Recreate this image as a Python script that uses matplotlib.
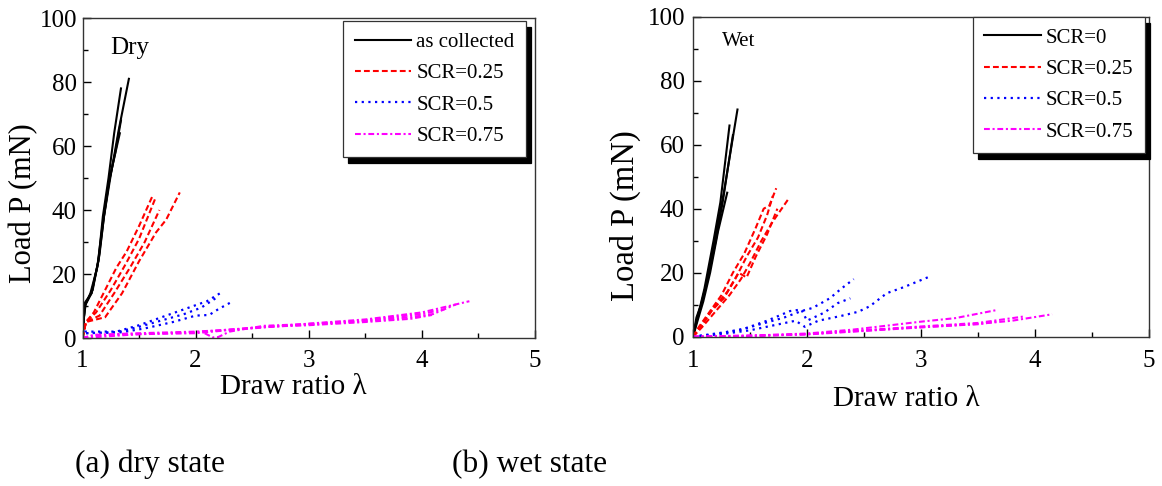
import matplotlib
matplotlib.use('Agg')
import matplotlib.pyplot as plt
from matplotlib.ticker import MultipleLocator

plt.rcParams['font.family'] = ['Liberation Serif', 'DejaVu Serif']

# ---------------- data ----------------
# each entry = (draw ratio list, load list) for one specimen

# (a) dry state
dry_as_collected = [
    ([1.0, 1.01, 1.02, 1.08, 1.14, 1.18, 1.23, 1.28, 1.34], [0, 5, 11, 14, 24, 38, 50, 64, 78]),
    ([1.0, 1.01, 1.03, 1.09, 1.15, 1.19, 1.25, 1.32, 1.41], [0, 6, 11, 15, 26, 38, 51, 65, 81]),
    ([1.0, 1.02, 1.07, 1.13, 1.18, 1.23, 1.29, 1.34], [0, 10, 14, 22, 36, 48, 58, 68]),
    ([1.0, 1.02, 1.08, 1.14, 1.19, 1.24, 1.33], [0, 10, 14, 24, 38, 50, 64]),
]
dry_scr025 = [
    ([1.0, 1.03, 1.1, 1.2, 1.3, 1.39, 1.5, 1.62], [0, 5, 8, 15, 22, 27, 35, 44.5]),
    ([1.0, 1.03, 1.12, 1.25, 1.38, 1.5, 1.65], [0, 5, 8, 15, 23, 31, 44.2]),
    ([1.0, 1.03, 1.15, 1.28, 1.42, 1.55, 1.68], [0, 5, 7, 14, 22, 30, 40]),
    ([1.0, 1.03, 1.2, 1.35, 1.5, 1.65, 1.74, 1.86], [0, 5, 6.5, 14, 24, 33, 37, 45.5]),
]
dry_scr05 = [
    ([1.0, 1.02, 1.3, 1.5, 1.7, 1.9, 2.1, 2.24], [0, 2, 2, 4, 6.5, 9, 11.5, 14.5]),
    ([1.0, 1.02, 1.3, 1.5, 1.7, 1.9, 2.05, 2.18], [0, 1.5, 1.8, 3.5, 5.5, 7.5, 9.5, 12.5]),
    ([1.0, 1.02, 1.35, 1.55, 1.8, 2.0, 2.12, 2.2, 2.33], [0, 1.5, 1.8, 3, 5, 7, 7.2, 9, 11.5]),
]
dry_scr075 = [
    ([1.0, 1.1, 1.5, 2.0, 2.5, 3.0, 3.5, 4.0, 4.42], [0, 1, 1.5, 2, 3, 4.5, 5.8, 8, 11.5]),
    ([1.0, 1.1, 1.5, 2.0, 2.5, 3.0, 3.5, 3.9, 4.1, 4.3], [0, 0.8, 1.2, 1.8, 3.2, 4.2, 5.3, 6.5, 7.5, 10.5]),
    ([1.0, 1.5, 2.0, 2.6, 3.0, 3.5, 3.9, 4.09], [0, 1.2, 1.5, 3.5, 4, 5, 6, 7.2]),
    ([2.08, 2.15, 2.2, 2.3, 2.6, 3.0, 3.5, 4.0, 4.2], [1.5, 0.2, 0.3, 2, 3.8, 4.4, 5.5, 7.5, 9]),
]

# (b) wet state
wet_scr0 = [
    ([1.0, 1.03, 1.06, 1.1, 1.18, 1.24, 1.32], [0, 5, 9, 15, 30, 42, 66]),
    ([1.0, 1.03, 1.07, 1.12, 1.2, 1.27, 1.33, 1.39], [0, 6, 10, 17, 32, 45, 58, 71]),
    ([1.0, 1.04, 1.08, 1.13, 1.2, 1.26, 1.35], [0, 6, 11, 18, 30, 42, 63]),
    ([1.0, 1.04, 1.09, 1.15, 1.22, 1.30], [0, 5, 11, 20, 33, 45]),
]
wet_scr025 = [
    ([1.0, 1.05, 1.15, 1.25, 1.35, 1.45, 1.55, 1.62, 1.67, 1.73], [0, 3, 8, 13, 20, 26, 34, 40, 41, 46.4]),
    ([1.0, 1.06, 1.16, 1.27, 1.37, 1.47, 1.57, 1.65, 1.70], [0, 3, 8, 12, 18, 25, 31, 38, 44]),
    ([1.0, 1.08, 1.2, 1.32, 1.42, 1.5, 1.6, 1.7, 1.84], [0, 3, 8, 13, 18, 23, 30, 36, 43.2]),
    ([1.0, 1.07, 1.18, 1.3, 1.4, 1.47, 1.55, 1.65, 1.74], [0, 3, 9, 14, 20, 18.5, 25, 32, 40]),
]
wet_scr05 = [
    ([1.0, 1.2, 1.4, 1.6, 1.8, 1.95, 2.05, 2.2, 2.3, 2.41], [0, 1, 2, 4, 6, 8, 9, 12, 15, 18]),
    ([1.0, 1.2, 1.45, 1.65, 1.85, 1.95, 2.0, 2.15, 2.27, 2.38], [0, 0.8, 2.5, 5, 8, 8.5, 5, 7.5, 10.5, 12]),
    ([1.0, 1.25, 1.5, 1.7, 1.9, 1.98, 2.1, 2.3, 2.45, 2.55, 2.7, 2.85, 3.09],
     [0, 0.8, 2, 3.5, 5, 3.1, 5, 6.5, 7.8, 9.5, 13.6, 15.5, 19]),
]
wet_scr075 = [
    ([1.0, 1.5, 2.0, 2.4, 3.0, 3.3, 3.66], [0, 0.3, 1, 2.2, 4.7, 5.8, 8.3]),
    ([1.0, 1.5, 2.0, 2.4, 3.0, 3.5, 3.9], [0, 0.2, 0.8, 1.8, 3.2, 4.3, 6.3]),
    ([1.0, 1.5, 2.0, 2.5, 3.0, 3.5, 3.8, 4.15], [0, 0.2, 0.7, 1.8, 2.9, 4.0, 5.0, 7.0]),
    ([1.0, 2.0, 2.5, 3.0, 3.5, 3.66], [0, 0.8, 1.9, 3.0, 3.9, 4.7]),
]

dry_labels = ['as collected', 'SCR=0.25', 'SCR=0.5', 'SCR=0.75']
wet_labels = ['SCR=0', 'SCR=0.25', 'SCR=0.5', 'SCR=0.75']

# line styles per group
styles = [
    dict(color='black', lw=1.5, ls='-'),
    dict(color='#ff0000', lw=1.5, dashes=(2.8, 1.5)),
    dict(color='#0000ff', lw=1.6, dashes=(1.0, 2.0)),
    dict(color='#ff00ff', lw=1.5, dashes=(2.8, 1.3, 1.0, 1.3)),
]

fig = plt.figure(figsize=(11.62, 4.86), dpi=100)
ax1 = fig.add_axes([0.0710, 0.3045, 0.3894, 0.6584])
ax2 = fig.add_axes([0.5964, 0.3072, 0.3924, 0.6584])


def draw(ax, groups, labels):
    for curves, lab, st in zip(groups, labels, styles):
        for i, (x, y) in enumerate(curves):
            ax.plot(x, y, label=lab if i == 0 else None, **st)


draw(ax1, [dry_as_collected, dry_scr025, dry_scr05, dry_scr075], dry_labels)
draw(ax2, [wet_scr0, wet_scr025, wet_scr05, wet_scr075], wet_labels)

for ax, xpad, ypad in [(ax1, 8.5, 4), (ax2, 9.5, 5.8)]:
    ax.set_xlim(1, 5)
    ax.set_ylim(0, 100)
    ax.xaxis.set_major_locator(MultipleLocator(1))
    ax.xaxis.set_minor_locator(MultipleLocator(0.5))
    ax.yaxis.set_major_locator(MultipleLocator(20))
    ax.yaxis.set_minor_locator(MultipleLocator(10))
    ax.tick_params(which='both', direction='in', top=False, right=False, width=1.0)
    ax.tick_params(which='major', length=6)
    ax.tick_params(which='minor', length=3.5)
    ax.tick_params(axis='x', which='major', labelsize=18, pad=xpad)
    ax.tick_params(axis='y', which='major', labelsize=18, pad=ypad)
    for sp in ax.spines.values():
        sp.set_linewidth(1.0)
        sp.set_color('#333333')

ax1.set_xlabel('Draw ratio λ', fontsize=21, va='baseline')
ax1.xaxis.set_label_coords(0.467, -0.175)
ax1.set_ylabel('Load P (mN)', fontsize=22, va='center')
ax1.yaxis.set_label_coords(-0.131, 0.42)

ax2.set_xlabel('Draw ratio λ', fontsize=21, va='baseline')
ax2.xaxis.set_label_coords(0.467, -0.2166)
ax2.set_ylabel('Load P (mN)', fontsize=23.5, va='center')
ax2.yaxis.set_label_coords(-0.148, 0.377)

ax1.text(0.062, 0.889, 'Dry', transform=ax1.transAxes, fontsize=18, va='baseline')
ax2.text(0.0636, 0.907, 'Wet', transform=ax2.transAxes, fontsize=15, va='baseline')

shadow = {'ox': 3.6, 'oy': -4.3, 'color': 'black', 'alpha': 1}
for ax, anchor in [(ax1, (0.980, 0.9906)), (ax2, (0.991, 1.0))]:
    leg = ax.legend(loc='upper right', bbox_to_anchor=anchor, borderaxespad=0,
                    fontsize=15, handlelength=2.7, handletextpad=0.25,
                    borderpad=0.55, labelspacing=0.56, fancybox=False,
                    framealpha=1, edgecolor='#333333', shadow=shadow)
    leg.get_frame().set_linewidth(0.9)

fig.text(75 / 1162, 1 - 472 / 486, '(a) dry state', fontsize=22.6, va='baseline')
fig.text(452 / 1162, 1 - 472 / 486, '(b) wet state', fontsize=22.6, va='baseline')

fig.savefig('out.png', dpi=100)
